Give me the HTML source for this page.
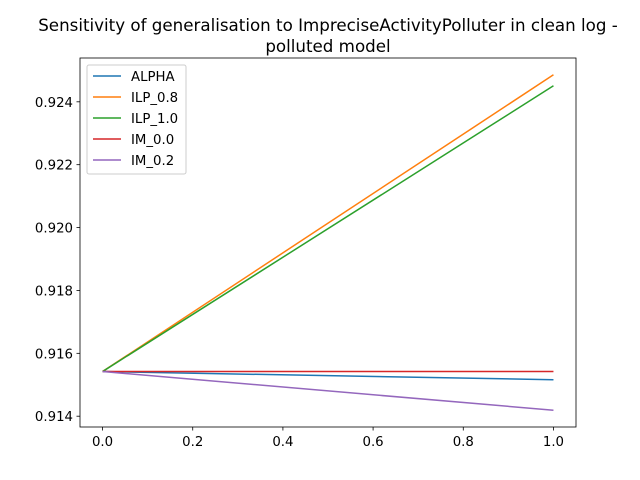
<!DOCTYPE html>
<html><head><meta charset="utf-8"><style>
body{margin:0;background:#fff;}
svg{display:block;font-family:"DejaVu Sans","Liberation Sans",sans-serif;}
</style></head><body>
<svg id="chart" width="640" height="480" viewBox="0 0 640 480">
<rect width="640" height="480" fill="#fff"/>
<text x="328" y="31" text-anchor="middle" font-size="16.7" fill="#000">Sensitivity of generalisation to ImpreciseActivityPolluter in clean log -</text>
<text x="328" y="52" text-anchor="middle" font-size="16.7" fill="#000">polluted model</text>
<g id="plot"></g>
</svg>
<script>
const xValues = [0.0, 1.0];
const seriesNames = ["ALPHA", "ILP_0.8", "ILP_1.0", "IM_0.0", "IM_0.2"];
const alphaValues = [0.91542, 0.91516];
const ilp08Values = [0.91542, 0.92486];
const ilp10Values = [0.91542, 0.92451];
const im00Values = [0.91542, 0.91542];
const im02Values = [0.91542, 0.91419];
const xTicks = [0.0, 0.2, 0.4, 0.6, 0.8, 1.0];
const xTickLabels = ["0.0", "0.2", "0.4", "0.6", "0.8", "1.0"];
const yTicks = [0.914, 0.916, 0.918, 0.920, 0.922, 0.924];
const yTickLabels = ["0.914", "0.916", "0.918", "0.920", "0.922", "0.924"];

const colors = ["#1f77b4", "#ff7f0e", "#2ca02c", "#d62728", "#9467bd"];
const allSeries = [alphaValues, ilp08Values, ilp10Values, im00Values, im02Values];
const L = 80, R = 576, T = 58, B = 427;
let all = [].concat(...allSeries);
let mn = Math.min(...all), mx = Math.max(...all), pad = (mx - mn) * 0.05;
const y0 = mn - pad, y1 = mx + pad;
const xmn = Math.min(...xValues), xmx = Math.max(...xValues), xp = (xmx - xmn) * 0.05;
const fx = v => L + (v - (xmn - xp)) / ((xmx + xp) - (xmn - xp)) * (R - L);
const fy = v => B - (v - y0) / (y1 - y0) * (B - T);
const NS = "http://www.w3.org/2000/svg";
const g = document.getElementById("plot");
function mk(tag, attrs, parent) { const e = document.createElementNS(NS, tag); for (const k in attrs) e.setAttribute(k, attrs[k]); (parent || g).appendChild(e); return e; }

allSeries.forEach((s, i) => {
  const p = mk("polyline", {points: s.map((v, j) => fx(xValues[j]) + "," + fy(v)).join(" "), fill: "none", stroke: colors[i], "stroke-width": 1.5});
  
  
});
const frame = mk("rect", {x: L, y: T, width: R - L, height: B - T, fill: "none", stroke: "#000", "stroke-width": 0.8});



xTicks.forEach((v, i) => {
  const x = fx(v);
  mk("line", {x1: x, x2: x, y1: B, y2: B + 3.5, stroke: "#000", "stroke-width": 0.8});
  const t = mk("text", {x: x, y: B + 19, "text-anchor": "middle", "font-size": 13.3, fill: "#000"});
  t.textContent = xTickLabels[i];
  
  
});
yTicks.forEach((v, i) => {
  const y = fy(v);
  mk("line", {x1: L - 3.5, x2: L, y1: y, y2: y, stroke: "#000", "stroke-width": 0.8});
  const t = mk("text", {x: L - 7, y: y + 5, "text-anchor": "end", "font-size": 13.3, fill: "#000"});
  t.textContent = yTickLabels[i];
  
  
});

const leg = mk("g", {});


mk("rect", {x: 87, y: 65, width: 99, height: 109, rx: 2, fill: "#fff", "fill-opacity": 0.8, stroke: "#ccc", "stroke-width": 1}, leg);
seriesNames.forEach((n, i) => {
  const y = 76 + i * 21;
  const e = mk("g", {}, leg);
  
  
  mk("line", {x1: 93, x2: 121, y1: y, y2: y, stroke: colors[i], "stroke-width": 1.5}, e);
  const t = mk("text", {x: 131, y: y + 5, "font-size": 13.3, fill: "#000"}, e);
  t.textContent = n;
});
</script>
</body></html>
